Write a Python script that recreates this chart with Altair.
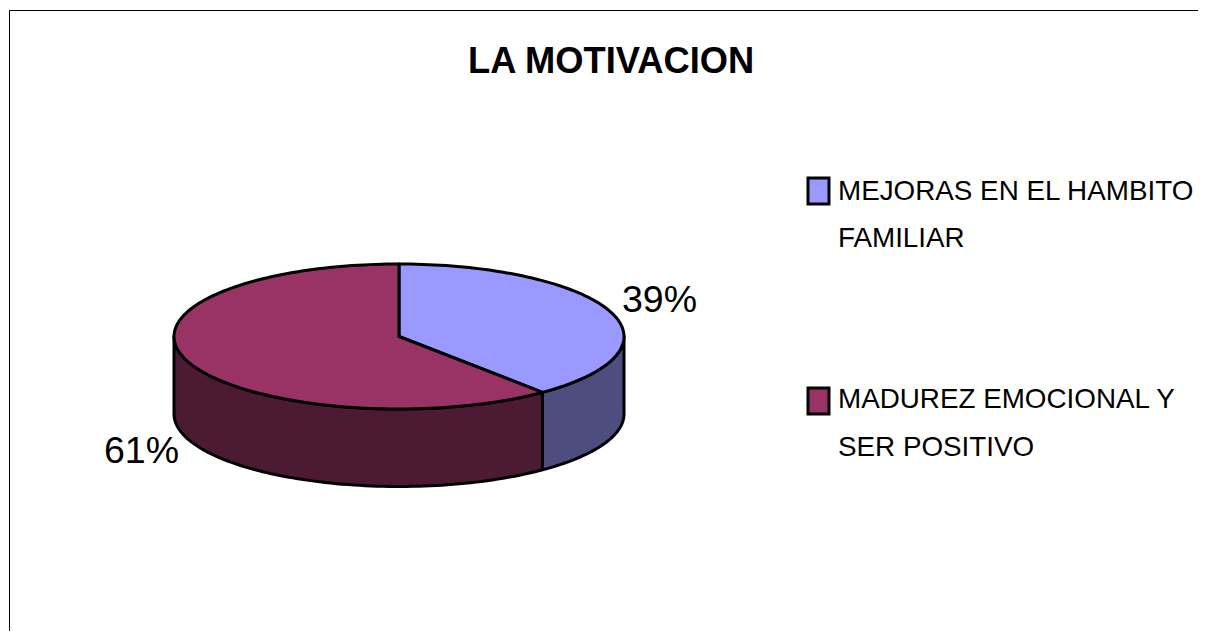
import altair as alt
import numpy as np
import pandas as pd

title = "LA MOTIVACION"
values = [39, 61]
top_colors = ["#9999FF", "#993366"]
side_colors = ["#4D4D80", "#4D1A33"]
legend_lines = [
    ["MEJORAS EN EL HAMBITO", "FAMILIAR"],
    ["MADUREZ EMOCIONAL Y", "SER POSITIVO"],
]

W, H = 1190, 623
A, B = 225.0, 72.5      # ellipse semi-axes in pixels
CX, CY = 399 - 8, 336.5 - 8
DEPTH = 77.5 / B
FONT = "Liberation Sans"

x_scale = alt.Scale(domain=[-CX / A, (W - CX) / A], range=[0, W], nice=False, zero=False)
y_scale = alt.Scale(domain=[CY / B, (CY - H) / B], range=[0, H], nice=False, zero=False)


def angles(a, b):
    n = max(2, int(abs(b - a) / np.radians(1.5)) + 1)
    return np.linspace(a, b, n)


def outline(us, vs):
    return pd.DataFrame({"u": us, "v": vs, "i": range(len(us))})


def base(df):
    return alt.Chart(df).encode(
        x=alt.X("u:Q", scale=x_scale, axis=None),
        y=alt.Y("v:Q", scale=y_scale, axis=None),
        order="i:Q",
    )


edge = dict(stroke="black", strokeWidth=3, strokeJoin="round", strokeCap="round")
layers = []

cum = np.cumsum([0] + values) / sum(values) * 2 * np.pi

# side walls: the front half of the rim only
for k in range(len(values)):
    a, b = max(cum[k], np.pi / 2), min(cum[k + 1], 1.5 * np.pi)
    t = angles(a, b)
    us = np.concatenate([np.sin(t), np.sin(t[::-1]), [np.sin(t[0])]])
    vs = np.concatenate([np.cos(t), np.cos(t[::-1]) - DEPTH, [np.cos(t[0])]])
    layers.append(base(outline(us, vs)).mark_line(fill=side_colors[k], **edge))

# top face
for k in range(len(values)):
    t = angles(cum[k], cum[k + 1])
    us = np.concatenate([[0], np.sin(t), [0]])
    vs = np.concatenate([[0], np.cos(t), [0]])
    layers.append(base(outline(us, vs)).mark_line(fill=top_colors[k], **edge))

one = pd.DataFrame({"a": [0]})


def text(s, x, y, size, bold=False):
    return alt.Chart(one).mark_text(
        text=s, font=FONT, fontSize=size, fontWeight="bold" if bold else "normal",
        align="left", baseline="alphabetic", color="black",
    ).encode(x=alt.value(x - 8), y=alt.value(y - 8))


# title
layers.append(text(title, 468, 73, 36.3, True))

# data labels
layers.append(text(f"{values[0]}%", 622, 312, 37.5))
layers.append(text(f"{values[1]}%", 104, 463, 37.5))

# legend
swatch_y = [(178, 204), (388, 414)]
line_y = [(200, 247), (408, 456)]
for k, lines in enumerate(legend_lines):
    layers.append(
        alt.Chart(one).mark_rect(fill=top_colors[k], stroke="black", strokeWidth=3).encode(
            x=alt.value(808 - 8), x2=alt.value(829 - 8),
            y=alt.value(swatch_y[k][0] - 8), y2=alt.value(swatch_y[k][1] - 8),
        )
    )
    for s, y in zip(lines, line_y[k]):
        layers.append(text(s, 838, y, 27.8))

# frame (open on the right and bottom)
layers.append(alt.Chart(one).mark_rule(color="black", strokeWidth=1).encode(
    x=alt.value(1.5), x2=alt.value(W), y=alt.value(2.5)))
layers.append(alt.Chart(one).mark_rule(color="black", strokeWidth=1).encode(
    x=alt.value(1.5), y=alt.value(2.5), y2=alt.value(H)))

chart = alt.layer(*layers).properties(
    width=W, height=H, padding=0, background="white",
    autosize=alt.AutoSizeParams(type="none"),
).configure_view(stroke=None)

chart.save("out.html", embed_options={"renderer": "svg", "actions": False})
